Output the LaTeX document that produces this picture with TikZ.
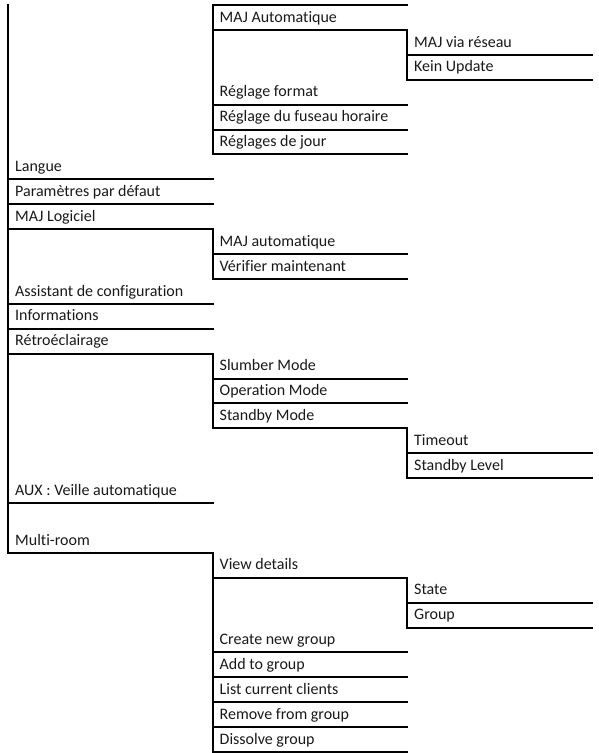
\documentclass[tikz,border=0pt]{standalone}
\usepackage{fontspec}
\setmainfont{Carlito}[Ligatures={NoCommon,NoRare,NoDiscretionary}]
\begin{document}
\begin{tikzpicture}[x=1pt,y=-24.9pt,
  rule/.style={line width=2pt,line join=miter,line cap=rect},
  lbl/.style={anchor=base west,inner sep=0pt,font=\fontsize{16pt}{18pt}\selectfont,text=black!90}]
\useasboundingbox (0,{-5/24.9}) rectangle (598,{748/24.9});
\newcommand\mentry[4]{\node[lbl] (#1) at ({#2+7},{#3-0.31}) {#4};}
% columns: 8, 212.5, 407, end 592
% ---------- level 0 vertical
\draw[rule] (8,0) -- (8,22);
% ---------- level 1 block (top)
\draw[rule] (212.5,0) -- (407,0);
\draw[rule] (212.5,0) -- (212.5,6);
\draw[rule] (212.5,1) -- (407,1) -- (407,3);
\draw[rule] (407,2) -- (592,2);
\draw[rule] (407,3) -- (592,3);
\draw[rule] (212.5,4) -- (407,4);
\draw[rule] (212.5,5) -- (407,5);
\draw[rule] (212.5,6) -- (407,6);
\mentry{majauto}{212.5}{1}{MAJ Automatique}
\mentry{majreseau}{407}{2}{MAJ via réseau}
\mentry{kein}{407}{3}{Kein Update}
\mentry{format}{212.5}{4}{Réglage format}
\mentry{fuseau}{212.5}{5}{Réglage du fuseau horaire}
\mentry{jour}{212.5}{6}{Réglages de jour}
% ---------- level 0 entries
\draw[rule] (8,7) -- (212.5,7);
\draw[rule] (8,8) -- (212.5,8);
\draw[rule] (8,9) -- (212.5,9) -- (212.5,11);
\draw[rule] (212.5,10) -- (407,10);
\draw[rule] (212.5,11) -- (407,11);
\draw[rule] (8,12) -- (212.5,12);
\draw[rule] (8,13) -- (212.5,13);
\draw[rule] (8,14) -- (212.5,14) -- (212.5,17);
\draw[rule] (212.5,15) -- (407,15);
\draw[rule] (212.5,16) -- (407,16);
\draw[rule] (212.5,17) -- (407,17) -- (407,19);
\draw[rule] (407,18) -- (592,18);
\draw[rule] (407,19) -- (592,19);
\draw[rule] (8,20) -- (212.5,20);
\draw[rule] (8,22) -- (212.5,22) -- (212.5,30);
\draw[rule] (212.5,23) -- (407,23) -- (407,25);
\draw[rule] (407,24) -- (592,24);
\draw[rule] (407,25) -- (592,25);
\draw[rule] (212.5,26) -- (407,26);
\draw[rule] (212.5,27) -- (407,27);
\draw[rule] (212.5,28) -- (407,28);
\draw[rule] (212.5,29) -- (407,29);
\draw[rule] (212.5,30) -- (407,30);
\mentry{langue}{8}{7}{Langue}
\mentry{param}{8}{8}{Paramètres par défaut}
\mentry{majlog}{8}{9}{MAJ Logiciel}
\mentry{majautom}{212.5}{10}{MAJ automatique}
\mentry{verif}{212.5}{11}{Vérifier maintenant}
\mentry{assist}{8}{12}{Assistant de configuration}
\mentry{info}{8}{13}{Informations}
\mentry{retro}{8}{14}{Rétroéclairage}
\mentry{slumber}{212.5}{15}{Slumber Mode}
\mentry{operation}{212.5}{16}{Operation Mode}
\mentry{standby}{212.5}{17}{Standby Mode}
\mentry{timeout}{407}{18}{Timeout}
\mentry{level}{407}{19}{Standby Level}
\mentry{aux}{8}{20}{AUX : Veille automatique}
\mentry{multi}{8}{22}{Multi-room}
\mentry{view}{212.5}{23}{View details}
\mentry{state}{407}{24}{State}
\mentry{group}{407}{25}{Group}
\mentry{create}{212.5}{26}{Create new group}
\mentry{add}{212.5}{27}{Add to group}
\mentry{list}{212.5}{28}{List current clients}
\mentry{remove}{212.5}{29}{Remove from group}
\mentry{dissolve}{212.5}{30}{Dissolve group}
\end{tikzpicture}
\end{document}
